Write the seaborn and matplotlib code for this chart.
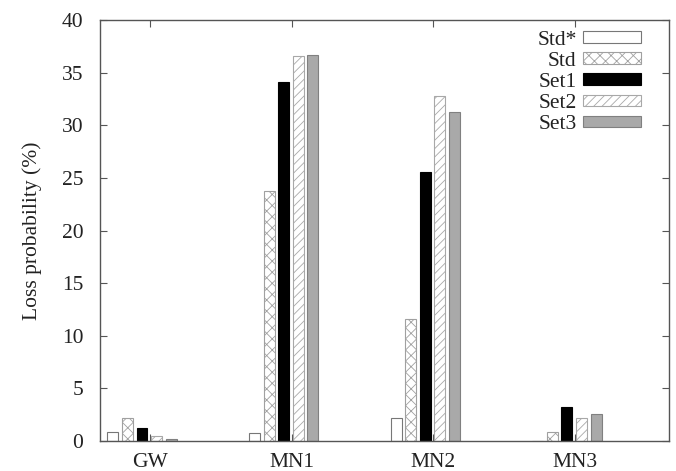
import matplotlib
matplotlib.use("Agg")
import matplotlib.pyplot as plt
import numpy as np
import pandas as pd
import seaborn as sns

# Loss probability (%) per node and configuration
nodes = ["GW", "MN1", "MN2", "MN3"]
series = ["Std*", "Std", "Set1", "Set2", "Set3"]
std_star = [0.85, 0.75, 2.2, 0.0]
std = [2.2, 23.8, 11.6, 0.9]
set1 = [1.2, 34.1, 25.6, 3.2]
set2 = [0.45, 36.6, 32.8, 2.2]
set3 = [0.15, 36.7, 31.3, 2.6]

values = {"Std*": std_star, "Std": std, "Set1": set1, "Set2": set2, "Set3": set3}
df = pd.DataFrame(
    [(n, s, values[s][i]) for s in series for i, n in enumerate(nodes)],
    columns=["node", "series", "loss"],
)

sns.set_theme(style="ticks")
plt.rcParams["font.family"] = ["Liberation Serif", "DejaVu Serif"]
plt.rcParams["hatch.linewidth"] = 0.6

fills = ["white", "white", "black", "white", "#a9a9a9"]
edges = ["#777777", "#a0a0a0", "black", "#a8a8a8", "#808080"]
hatches = [None, "xxx", None, "////", None]
fs = 15.5

fig = plt.figure(figsize=(6.76, 4.71), dpi=100)
ax = fig.add_axes([0.148, 0.0637, 0.8416, 0.8938])

sns.barplot(
    data=df, x="node", y="loss", hue="series", hue_order=series, order=nodes,
    palette=fills, width=0.515, gap=0.25, legend=False, ax=ax, errorbar=None,
)

for cont, ec, h in zip(ax.containers, edges, hatches):
    for p in cont.patches:
        p.set_edgecolor(ec)
        p.set_linewidth(0.8)
        if h:
            p.set_hatch(h)

ax.set_xlim(-0.296, 3.72)
ax.set_ylim(0, 40)
ax.set_yticks(np.arange(0, 41, 5))
ax.set_xticks(np.arange(len(nodes)) + 0.057)
ax.set_xticklabels(nodes)
ax.set_xlabel("")
ax.set_ylabel("Loss probability (%)", fontsize=fs, labelpad=14, color="#222222")

for side in ["left", "right", "top", "bottom"]:
    ax.spines[side].set_visible(True)
    ax.spines[side].set_color("#555555")
    ax.spines[side].set_linewidth(1.0)

ax.tick_params(axis="both", which="both", direction="in", length=5, width=0.8,
               color="#555555", labelsize=fs, labelcolor="#222222",
               top=True, right=True)
ax.tick_params(axis="y", pad=12)
ax.tick_params(axis="x", pad=9)

leg = ax.legend(
    [c.patches[0] for c in ax.containers], series,
    loc="upper right", bbox_to_anchor=(0.951, 0.975), frameon=False,
    markerfirst=False, fontsize=fs, handlelength=2.7, handleheight=0.45,
    handletextpad=0.3, labelspacing=0.1, borderpad=0, borderaxespad=0,
)
for t in leg.get_texts():
    t.set_color("#222222")

fig.savefig("out.png", dpi=100)
